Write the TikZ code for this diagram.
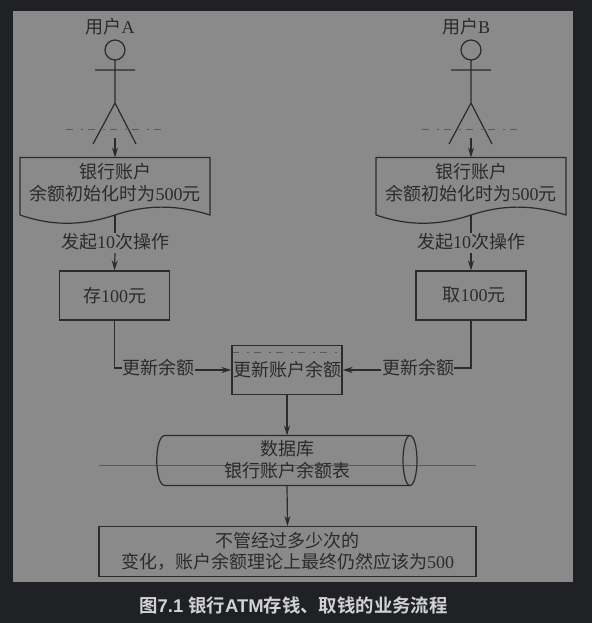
\documentclass[tikz,border=0pt]{standalone}
\usepackage{fontspec}
\usetikzlibrary{arrows.meta}
\setmainfont{Liberation Serif}
\newfontfamily\cjk{Noto Sans CJK SC}
\newfontfamily\cjkbold{Noto Sans CJK SC Bold}
\newfontfamily\capsans{Liberation Sans}[BoldFont={Liberation Sans Bold}]
\definecolor{pagebg}{HTML}{1F2124}
\definecolor{panel}{HTML}{8A8A8A}
\definecolor{ink}{HTML}{2B2B2B}
\definecolor{faint}{HTML}{5A5A5A}
\definecolor{captxt}{HTML}{D2D2D2}
\newcommand{\zh}[1]{{\cjk #1}}
\tikzset{
  ln/.style={draw=ink,line width=1.2pt},
  arr/.style={ln,-{Stealth[length=10pt,width=6pt]}},
  txt/.style={text=ink,font=\fontsize{18pt}{21.5pt}\selectfont,align=center,inner sep=0pt},
  boxnode/.style={txt,ln,minimum width=110pt,minimum height=49pt},
  lbl/.style={txt},
  fnt/.style={draw=faint,line width=0.7pt},
  ghost/.style={fnt,dash pattern=on 7pt off 8pt on 2pt off 5pt}
}
\newcommand{\actor}[3]{%
  \node[txt] (#2name) at (#1-5,27) {\zh{用户}#3};
  \draw[ln] (#1,50) circle (10);
  \draw[ln] (#1,60) -- (#1,103) (#1-20,70) -- (#1+20,70)
    (#1-22,144) -- (#1,103) -- (#1+21,144);
  \draw[ghost] (#1-49,129.5) -- (#1+53,129.5);
  \coordinate (#2foot) at (#1,138);
}
\newcommand{\docshape}[2]{%
  \node[txt] (#2) at (#1,182.5) {\zh{银行账户}\\\zh{余额初始化时为}500\zh{元}};
  \draw[ln] (#1-95,215) -- (#1-95,157.5) -- (#1+95,157.5) -- (#1+95,215)
    .. controls (#1+60,204) and (#1+30,205) .. (#1,215)
    .. controls (#1-30,225) and (#1-60,227) .. (#1-95,215);
  \coordinate (#2top) at (#1,157.5);
  \coordinate (#2bot) at (#1,215);
}
\begin{document}
\begin{tikzpicture}[x=1pt,y=-1pt]
\useasboundingbox (0,0) rectangle (592,623);
\fill[pagebg] (0,0) rectangle (592,623);
\fill[panel] (13,11) rectangle (573,582);
% faint scan artefacts
\draw[fnt] (99,465) -- (475.5,465);
\draw[ghost] (232,352.5) -- (340,352.5);

\actor{115}{ua}{A}
\actor{471}{ub}{B}
\docshape{115}{da}
\docshape{471}{db}
\draw[arr] (uafoot) -- (datop);
\draw[arr] (ubfoot) -- (dbtop);

\node[lbl] (ca) at (115,241.5) {\zh{发起}10\zh{次操作}};
\node[lbl] (cb) at (471,241.5) {\zh{发起}10\zh{次操作}};
\node[boxnode] (sa) at (114.5,295.5) {\zh{存}100\zh{元}};
\node[boxnode] (sb) at (471,295.5) {\hspace*{6pt}\zh{取}100\zh{元}};
\draw[ln] (dabot) -- (ca.north);
\draw[ln] (dbbot) -- (cb.north);
\draw[arr] (ca.south) ++(0,3) -- (sa.north);
\draw[arr] (cb.south) ++(0,3) -- (sb.north);

\node[boxnode] (up) at (287,370) {\zh{更新账户余额}};
\node[lbl] (la) at (158,368) {\zh{更新余额}};
\node[lbl] (lb) at (418,368) {\zh{更新余额}};
\draw[ln] (sa.south) |- (la.west);
\draw[ln] (sb.south) |- (lb.east);
\draw[arr] (la.east) ++(1,2) -- (up.west);
\draw[arr] (lb.west) ++(-1,2) -- (up.east);

% cylinder
\node[txt] (db) at (287,459.5) {\zh{数据库}\\\zh{银行账户余额表}};
\draw[ln] (410,435.5) -- (165,435.5)
  .. controls (154,435.5) and (154,485.5) .. (165,485.5) -- (410,485.5);
\draw[ln] (410,460.5) ellipse [x radius=7,y radius=25];
\coordinate (dbtop) at (287,435.5);
\coordinate (dbbot) at (287,485.5);
\draw[arr] (up.south) -- (dbtop);

\node[txt,ln,minimum width=377pt,minimum height=50pt] (res) at (287.5,551.5)
  {\zh{不管经过多少次的}\\\zh{变化，账户余额理论上最终仍然应该为}500};
\draw[arr] (dbbot) -- (res.north);

\node[text=captxt,inner sep=0pt,font=\fontsize{18.4pt}{20pt}\selectfont] (cap) at (293.5,605)
  {{\cjkbold 图}{\capsans\bfseries 7.1 }{\cjkbold 银行}{\capsans\bfseries ATM}{\cjkbold 存钱、取钱的业务流程}};
\end{tikzpicture}
\end{document}
